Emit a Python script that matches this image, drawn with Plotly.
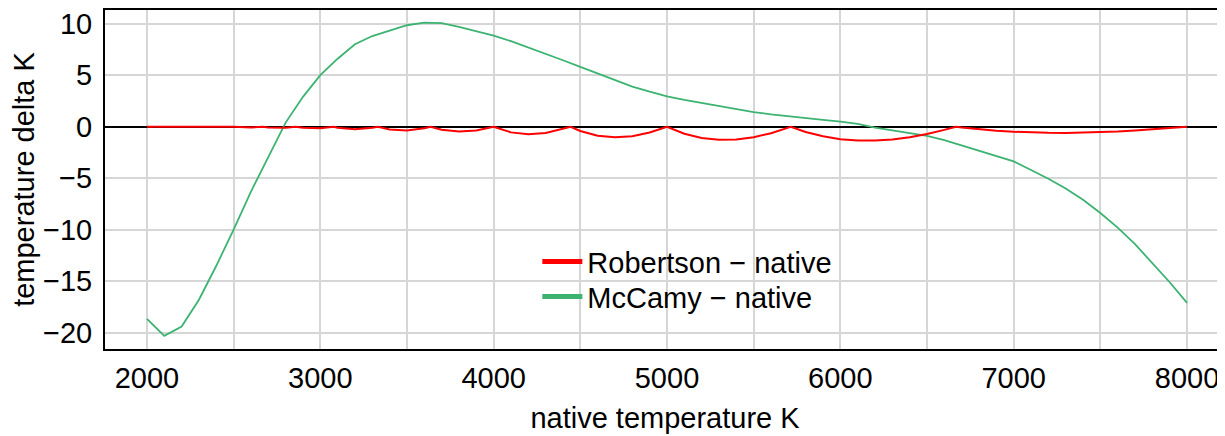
import plotly.graph_objects as go

# McCamy - native (sampled every 100 K)
mccamy_t = list(range(2000, 8001, 100))
mccamy_delta = [
    -18.65, -20.3, -19.4, -16.8, -13.5, -10.0, -6.3, -2.9, 0.4, 2.9,
    5.0, 6.6, 8.0, 8.8, 9.35, 9.85, 10.1, 10.05, 9.7, 9.3,
    8.85, 8.3, 7.7, 7.1, 6.45, 5.8, 5.15, 4.5, 3.9, 3.4,
    2.94, 2.6, 2.3, 2.0, 1.7, 1.42, 1.2, 1.0, 0.82, 0.66,
    0.5, 0.27, -0.08, -0.35, -0.6, -0.88, -1.3, -1.8, -2.3, -2.8,
    -3.37, -4.2, -5.05, -6.0, -7.1, -8.38, -9.8, -11.4, -13.2, -15.1,
    -17.1,
]

# Robertson - native
robertson_t = [
    2000, 2100, 2105, 2200, 2222, 2300, 2353, 2400, 2500, 2600,
    2667, 2700, 2800, 2857, 2900, 3000, 3077, 3100, 3200, 3300,
    3333, 3400, 3500, 3600, 3636, 3700, 3800, 3900, 4000, 4100,
    4200, 4300, 4400, 4444, 4500, 4600, 4700, 4800, 4900, 5000,
    5100, 5200, 5300, 5400, 5500, 5600, 5700, 5714, 5800, 5900,
    6000, 6100, 6200, 6300, 6400, 6500, 6600, 6667, 6700, 6800,
    6900, 7000, 7100, 7200, 7300, 7400, 7500, 7600, 7700, 7800,
    7900, 8000,
]
robertson_delta = [
    0.0, -0.005, 0.0, -0.02, 0.0, -0.04, 0.0, -0.05, 0.0, -0.08,
    0.0, -0.07, -0.09, 0.0, -0.11, -0.14, 0.0, -0.09, -0.25, -0.11,
    0.0, -0.27, -0.37, -0.15, 0.0, -0.29, -0.47, -0.36, 0.0, -0.55,
    -0.74, -0.62, -0.24, 0.0, -0.41, -0.87, -1.03, -0.92, -0.56, 0.0,
    -0.68, -1.09, -1.27, -1.24, -1.02, -0.63, -0.09, 0.0, -0.51, -0.93,
    -1.21, -1.34, -1.35, -1.24, -1.02, -0.71, -0.31, 0.0, -0.07, -0.25,
    -0.39, -0.49, -0.56, -0.59, -0.60, -0.58, -0.53, -0.47, -0.38, -0.27,
    -0.14, 0.0,
]

series_names = ["Robertson \u2212 native", "McCamy \u2212 native"]
red = "#ff0000"
green = "#3cb371"
FONT = "Liberation Sans, Arial, sans-serif"
FS = 29

fig = go.Figure()
fig.add_trace(go.Scatter(x=mccamy_t, y=mccamy_delta, mode="lines",
                         line=dict(color=green, width=1.8), showlegend=False,
                         hoverinfo="skip"))
fig.add_trace(go.Scatter(x=robertson_t, y=robertson_delta, mode="lines",
                         line=dict(color=red, width=2), showlegend=False,
                         hoverinfo="skip"))
# legend entries (thicker symbols), one per legend box for exact row spacing
fig.add_trace(go.Scatter(x=[None], y=[None], mode="lines", name=series_names[0],
                         line=dict(color=red, width=5), legend="legend"))
fig.add_trace(go.Scatter(x=[None], y=[None], mode="lines", name=series_names[1],
                         line=dict(color=green, width=5), legend="legend2"))

grid = "#d6d6d6"
leg_common = dict(xanchor="left", yanchor="top", bgcolor="rgba(0,0,0,0)",
                  font=dict(size=FS), itemwidth=40)
fig.update_layout(
    width=1217, height=428,
    margin=dict(l=97, r=0, t=2, b=87),
    paper_bgcolor="white", plot_bgcolor="white",
    font=dict(family=FONT, size=FS, color="black"),
    showlegend=True,
    legend=dict(x=0.386, y=0.333, **leg_common),
    legend2=dict(x=0.386, y=0.230, **leg_common),
    xaxis=dict(
        range=[1758, 8219], tickmode="array",
        tickvals=[2000, 3000, 4000, 5000, 6000, 7000, 8000],
        showgrid=True, gridcolor=grid, gridwidth=1.5,
        minor=dict(tickmode="array",
                   tickvals=[2500, 3500, 4500, 5500, 6500, 7500],
                   showgrid=True, gridcolor=grid, gridwidth=1.5),
        showline=True, linecolor="black", linewidth=2, mirror=True,
        ticks="outside", ticklen=2, tickcolor="rgba(0,0,0,0)",
        zeroline=False, ticklabeloverflow="allow",
        title=dict(text="native temperature K", standoff=15,
                   font=dict(size=FS)),
        tickfont=dict(size=FS),
    ),
    yaxis=dict(
        range=[-21.58, 11.33], tickmode="array",
        tickvals=[-20, -15, -10, -5, 0, 5, 10],
        showgrid=True, gridcolor=grid, gridwidth=1.5,
        showline=True, linecolor="black", linewidth=2, mirror=False,
        ticks="outside", ticklen=5, tickcolor="rgba(0,0,0,0)",
        zeroline=True, zerolinecolor="black", zerolinewidth=2,
        ticklabeloverflow="allow",
        title=dict(text="temperature delta K", standoff=8,
                   font=dict(size=FS)),
        tickfont=dict(size=FS),
    ),
)

fig.write_html("out.html")
